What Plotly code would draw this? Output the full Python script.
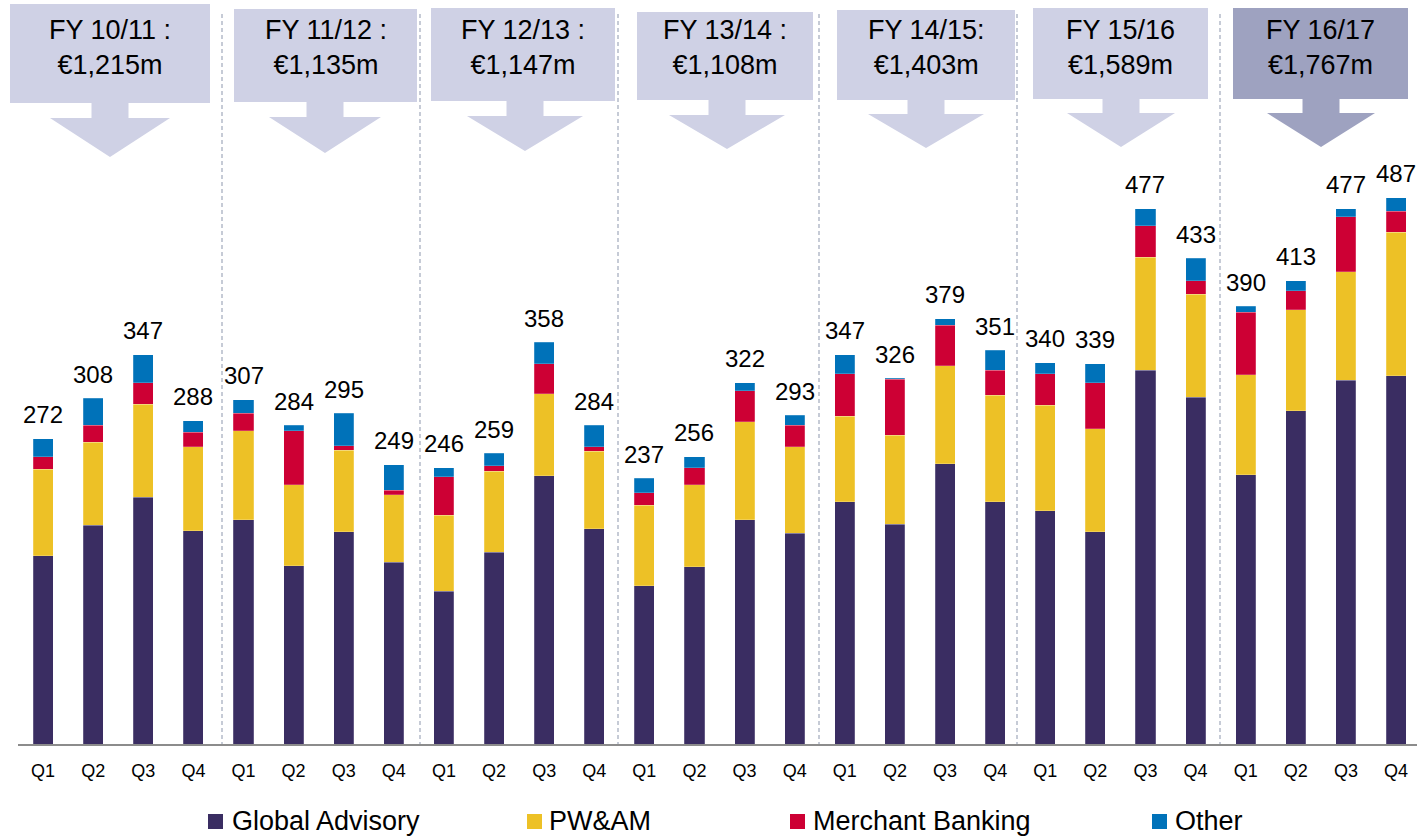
import plotly.graph_objects as go

quarters = ["Q1", "Q2", "Q3", "Q4"] * 7
fiscal_years = ["FY 10/11 :", "FY 11/12 :", "FY 12/13 :", "FY 13/14 :", "FY 14/15:", "FY 15/16", "FY 16/17"]
fy_totals = ["€1,215m", "€1,135m", "€1,147m", "€1,108m", "€1,403m", "€1,589m", "€1,767m"]

global_advisory = [168, 195, 220, 190, 200, 159, 189, 162, 136, 171, 239, 192, 141, 158,
                   200, 188, 216, 196, 250, 216, 208, 189, 333, 309, 240, 297, 324, 328]
pwam = [77, 74, 83, 75, 79, 72, 73, 60, 68, 72, 73, 69, 72, 73,
        87, 77, 76, 79, 87, 95, 94, 92, 101, 92, 89, 90, 97, 128]
merchant_banking = [11, 15, 19, 13, 16, 48, 4, 4, 34, 5, 27, 4, 11, 15,
                    28, 19, 38, 50, 36, 22, 28, 41, 28, 12, 56, 17, 49, 19]
other = [16, 24, 25, 10, 12, 5, 29, 23, 8, 11, 19, 19, 13, 10,
         7, 9, 17, 1, 6, 18, 10, 17, 15, 20, 5, 9, 7, 12]
totals = [272, 308, 347, 288, 307, 284, 295, 249, 246, 259, 358, 284, 237, 256,
          322, 293, 347, 326, 379, 351, 340, 339, 477, 433, 390, 413, 477, 487]

series_names = ["Global Advisory", "PW&AM", "Merchant Banking", "Other"]
series_colors = ["#3A2D62", "#EDC126", "#CD0034", "#0072B9"]

FONT = "Arial, Liberation Sans, sans-serif"
W, H = 1417, 836
PL, PR, PB = 18, 1417, 744  # plot area pixel edges
PX_PER_UNIT = 1.122

def xp(px):
    return (px - PL) / (PR - PL)

def yp(py):
    return (PB - py) / PB

xs = list(range(len(quarters)))
fig = go.Figure()
for name, vals, col in zip(series_names, [global_advisory, pwam, merchant_banking, other], series_colors):
    fig.add_trace(go.Bar(x=xs, y=vals, name=name, marker_color=col,
                         marker_line_color="rgba(255,255,255,0.35)", marker_line_width=0.6,
                         width=0.4, showlegend=False))

annotations = []
for i, t in enumerate(totals):
    annotations.append(dict(x=i, y=t, xref="x", yref="y", text=str(t), showarrow=False,
                            yanchor="middle", yshift=24, font=dict(family=FONT, size=24, color="#000")))

shapes = []
# header boxes with arrows (pixel coordinates)
boxes = [
    (10, 210, 4, 103, 110, 118, 157, 60),
    (234, 417, 9, 102, 325, 117, 153, 56),
    (431, 615, 8, 101, 525, 116, 151, 58),
    (637, 813, 12, 100, 727, 115, 149, 58),
    (837, 1015, 10, 100, 926, 114, 148, 58),
    (1033, 1208, 8, 99, 1121, 113, 147, 54),
    (1233, 1408, 8, 99, 1321, 113, 147, 54),
]
for k, (x0, x1, y0, y1, cx, hy, tip, hw) in enumerate(boxes):
    sw = 18.5
    pts = [(x0, y0), (x1, y0), (x1, y1), (cx + sw, y1), (cx + sw, hy), (cx + hw, hy), (cx, tip),
           (cx - hw, hy), (cx - sw, hy), (cx - sw, y1), (x0, y1)]
    path = "M " + " L ".join(f"{xp(a):.5f},{yp(b):.5f}" for a, b in pts) + " Z"
    color = "#9EA2C0" if k == 6 else "#CFD1E5"
    shapes.append(dict(type="path", path=path, xref="paper", yref="paper",
                       fillcolor=color, line=dict(width=0), layer="above"))
    annotations.append(dict(x=xp((x0 + x1) / 2), y=yp(47), xref="paper", yref="paper",
                            text=fiscal_years[k] + "<br>" + fy_totals[k], showarrow=False,
                            xanchor="center", yanchor="middle",
                            font=dict(family=FONT, size=27, color="#000")))

# dashed separators
for sx in [222, 420, 618, 819, 1017, 1220]:
    shapes.append(dict(type="line", xref="paper", yref="paper", x0=xp(sx), x1=xp(sx),
                       y0=yp(14), y1=yp(744), line=dict(color="#8D97AD", width=1, dash="4px,3px"),
                       layer="below"))

# manual legend
legend_pos = [(208, 230), (527, 547), (790, 811), (1152, 1173)]
for (mx, tx), name, col in zip(legend_pos, series_names, series_colors):
    shapes.append(dict(type="rect", xref="paper", yref="paper", x0=xp(mx), x1=xp(mx + 15),
                       y0=yp(814), y1=yp(829), fillcolor=col, line=dict(width=0)))
    annotations.append(dict(x=xp(tx), y=yp(821), xref="paper", yref="paper", text=name,
                            showarrow=False, xanchor="left", yanchor="middle",
                            font=dict(family=FONT, size=27, color="#000")))

fig.update_layout(
    barmode="stack",
    width=W, height=H,
    margin=dict(l=PL, r=W - PR, t=0, b=H - PB, pad=0),
    paper_bgcolor="white", plot_bgcolor="white",
    showlegend=False,
    xaxis=dict(range=[-0.5, -0.5 + (PR - PL) / 50.11], tickvals=xs, ticktext=quarters,
               showgrid=False, zeroline=False, showline=True, linecolor="#8C8C8C", linewidth=2,
               ticks="outside", ticklen=9, tickcolor="rgba(0,0,0,0)",
               tickfont=dict(family=FONT, size=18, color="#000")),
    yaxis=dict(range=[0, PB / PX_PER_UNIT], visible=False, showgrid=False, zeroline=False),
    shapes=shapes,
    annotations=annotations,
)

fig.write_html("out.html", config={"displayModeBar": False},
               post_script="document.body.style.margin='0';document.body.style.overflow='hidden';")
